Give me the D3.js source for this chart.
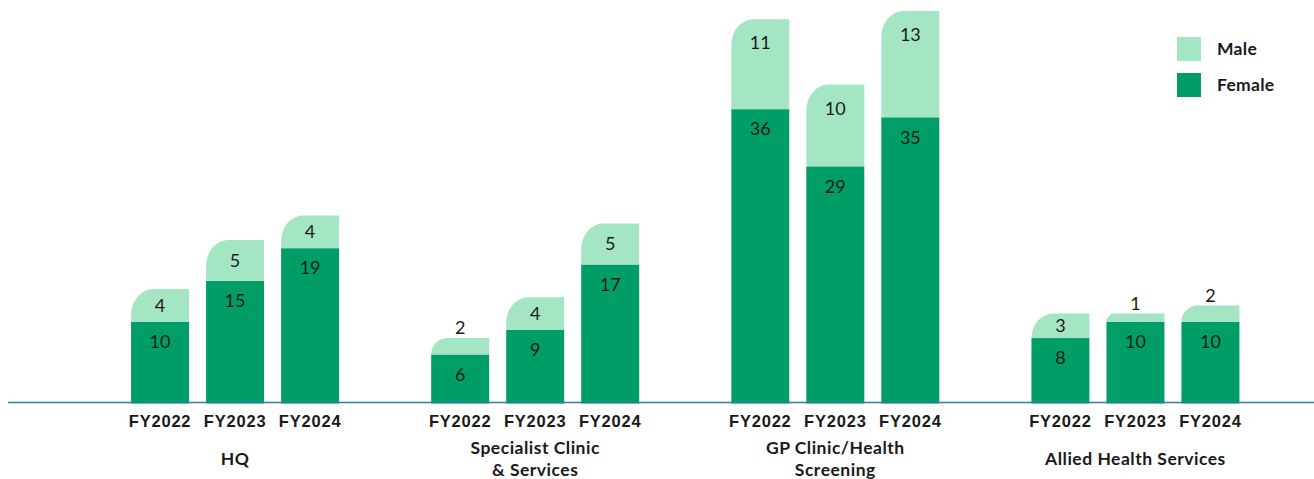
<!DOCTYPE html>
<html>
<head>
<meta charset="utf-8">
<script src="https://cdn.jsdelivr.net/npm/d3@7"></script>
<style>
  html, body { margin: 0; padding: 0; background: #ffffff; }
  svg { display: block; font-family: Lato, "Open Sans", sans-serif; }
</style>
</head>
<body>
<svg id="chart" width="1314" height="479"></svg>
<script>
// Headcount by department, split by gender, for three financial years
const groups = ["HQ", "Specialist Clinic\n& Services", "GP Clinic/Health\nScreening", "Allied Health Services"];
const years = ["FY2022", "FY2023", "FY2024"];
const female = [
  [10, 15, 19],
  [6, 9, 17],
  [36, 29, 35],
  [8, 10, 10]
];
const male = [
  [4, 5, 4],
  [2, 4, 5],
  [11, 10, 13],
  [3, 1, 2]
];
const seriesNames = ["Male", "Female"];

const colors = { Male: "#a4e6c4", Female: "#009e66" };
const textColor = "#1a1a1a";

const svg = d3.select("#chart");

const y = d3.scaleLinear().domain([0, 48]).range([403.5, 11]);
const baseline = y(0);
const x0 = d3.scaleBand().domain(groups).range([85, 1285.5]).paddingInner(0).paddingOuter(0);
const x1 = d3.scaleBand().domain(years).range([-104, 104]).paddingInner(0.227).paddingOuter(0);

// Bar outline with only the top-left corner rounded
function topLeftRounded(x, top, w, h, rx, ry) {
  rx = Math.min(rx, w, h);
  ry = Math.min(ry, h);
  return `M${x},${top + h}` +
    `L${x},${top + ry}` +
    `A${rx},${ry} 0 0 1 ${x + rx},${top}` +
    `L${x + w},${top}` +
    `L${x + w},${top + h}Z`;
}

const rows = [];
groups.forEach((g, gi) => {
  years.forEach((yr, yi) => {
    rows.push({ group: g, year: yr, female: female[gi][yi], male: male[gi][yi] });
  });
});

const gBars = svg.append("g");
rows.forEach(d => {
  const cx = x0(d.group) + x0.bandwidth() / 2;
  const bx = cx + x1(d.year);
  const w = x1.bandwidth();
  const fTop = y(d.female);
  const mTop = y(d.female + d.male);
  const mH = fTop - mTop;

  // female segment (bottom)
  gBars.append("rect")
    .attr("x", bx).attr("y", fTop)
    .attr("width", w).attr("height", baseline - fTop)
    .attr("fill", colors.Female);

  // male segment (top) with rounded top-left corner
  gBars.append("path")
    .attr("d", topLeftRounded(bx, mTop, w, mH, 22, 26))
    .attr("fill", colors.Male);

  // value labels
  gBars.append("text")
    .attr("x", bx + w / 2)
    .attr("y", fTop + 20)
    .attr("dy", "0.35em")
    .attr("text-anchor", "middle")
    .attr("font-size", 18)
    .attr("fill", textColor)
    .text(d.female);

  const mLabelY = mH >= 20 ? mTop + Math.min(mH / 2, 24) : mTop - 10;
  gBars.append("text")
    .attr("x", bx + w / 2)
    .attr("y", mLabelY)
    .attr("dy", "0.35em")
    .attr("text-anchor", "middle")
    .attr("font-size", 18)
    .attr("fill", textColor)
    .text(d.male);
});

// baseline axis
svg.append("line")
  .attr("x1", 8).attr("x2", 1314)
  .attr("y1", 402.5).attr("y2", 402.5)
  .attr("stroke", "#2e7ea0")
  .attr("stroke-width", 1.5);

// year tick labels and department labels
const gAxis = svg.append("g");
groups.forEach(g => {
  const cx = x0(g) + x0.bandwidth() / 2;
  years.forEach(yr => {
    gAxis.append("text")
      .attr("x", cx + x1(yr) + x1.bandwidth() / 2)
      .attr("y", 421)
      .attr("dy", "0.35em")
      .attr("text-anchor", "middle")
      .attr("font-family", "'Liberation Sans', Arial, sans-serif")
      .attr("font-size", 16.5)
      .attr("font-weight", 700)
      .attr("letter-spacing", 0.8)
      .attr("fill", textColor)
      .text(yr);
  });
  const lines = g.split("\n");
  const startY = lines.length > 1 ? 448 : 459;
  lines.forEach((ln, i) => {
    gAxis.append("text")
      .attr("x", cx)
      .attr("y", startY + i * 22)
      .attr("dy", "0.35em")
      .attr("text-anchor", "middle")
      .attr("font-size", 17.5)
      .attr("font-weight", 700)
      .attr("letter-spacing", 0.5)
      .attr("fill", textColor)
      .text(ln);
  });
});

// legend
const legend = svg.append("g");
seriesNames.forEach((s, i) => {
  const ly = 37 + i * 36;
  legend.append("rect")
    .attr("x", 1177).attr("y", ly)
    .attr("width", 24).attr("height", 24)
    .attr("fill", colors[s]);
  legend.append("text")
    .attr("x", 1217).attr("y", ly + 12)
    .attr("dy", "0.35em")
    .attr("font-size", 17.5)
    .attr("font-weight", 700)
    .attr("letter-spacing", 0.3)
    .attr("fill", textColor)
    .text(s);
});
</script>
</body>
</html>
